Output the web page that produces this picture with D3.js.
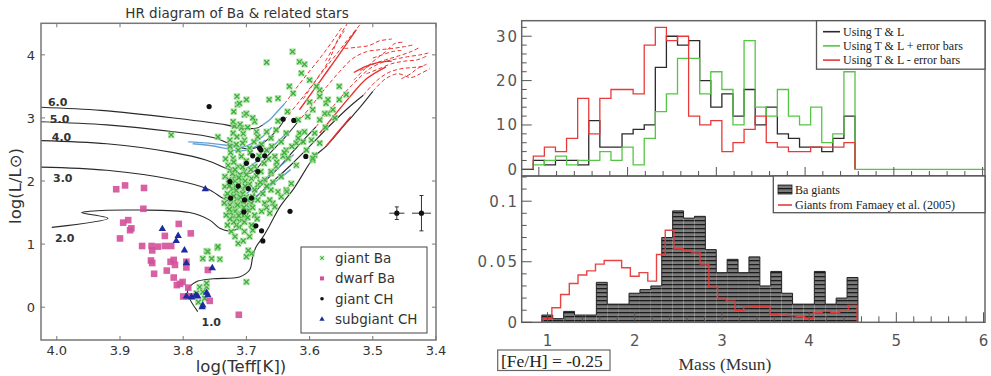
<!DOCTYPE html>
<html>
<head>
<meta charset="utf-8">
<script src="https://cdn.jsdelivr.net/npm/d3@7"></script>
<style>
  body { margin: 0; background: #fff; }
  svg { display: block; }
</style>
</head>
<body>
<svg id="fig" width="991" height="376"></svg>
<script>
// ---------- HR diagram data (logTeff, logL) ----------
const giantBa = [
  [3.627,4.05],[3.668,3.88],[3.616,3.89],[3.608,3.85],[3.600,3.60],[3.613,3.71],[3.584,3.44],[3.574,3.23],[3.553,3.50],
  [3.715,3.34],[3.700,3.29],[3.714,3.21],[3.703,3.05],[3.664,3.29],[3.650,3.31],[3.632,3.50],[3.626,3.39],[3.589,3.50],
  [3.584,3.34],[3.571,3.29],[3.595,3.13],[3.819,2.73],[3.745,2.70],[3.726,2.65],[3.721,2.76],[3.719,2.87],[3.708,2.84],
  [3.684,2.78],[3.668,2.78],[3.653,2.81],[3.616,2.76],[3.621,2.60],[3.605,2.49],[3.592,2.41],[3.595,2.33],[3.584,2.60],
  [3.597,2.65],[3.571,3.07],[3.563,3.13],[3.553,3.29],[3.542,3.37],[3.637,2.49],[3.642,2.39],[3.653,2.23],[3.661,2.12],
  [3.650,1.83],[3.658,1.65],[3.663,1.49],[3.692,0.85],[3.711,1.27],[3.713,1.01],[3.746,0.94],[3.763,0.89],[3.755,0.77],
  [3.769,0.77],[3.700,0.40],[3.774,0.32],[3.763,0.32],[3.769,0.24],[3.779,0.22],[3.776,0.08],[3.766,0.14],[3.763,0.38],
  [3.711,3.23],[3.700,3.07],[3.687,2.94],[3.721,2.94],[3.703,2.65],[3.682,2.70],[3.661,2.68],[3.645,2.62],[3.637,2.76],
  [3.618,2.68],[3.608,2.78],[3.592,2.76],[3.584,2.97],[3.576,3.07],[3.603,3.02],[3.618,2.97],[3.713,2.49],[3.721,2.36],
  [3.708,2.39],[3.695,2.52],[3.668,2.49],[3.655,2.39],[3.634,2.36],[3.621,2.25],[3.595,2.36],[3.637,1.86],[3.661,1.86],
  [3.671,2.02],[3.713,2.23],[3.726,2.17],[3.703,2.15],[3.719,2.07],[3.708,2.02],[3.692,2.04],[3.724,1.96],[3.716,1.91],
  [3.705,1.86],[3.721,1.83],[3.713,1.78],[3.724,1.70],[3.716,1.65],[3.708,1.67],[3.692,1.65],[3.682,1.70],[3.671,1.65],
  [3.719,1.57],[3.711,1.49],[3.721,1.43],[3.697,1.54],[3.687,1.46],[3.708,1.38],[3.716,1.30],[3.724,1.20],[3.692,1.30],
  [3.703,1.20],[3.695,1.12],[3.663,1.70],[3.655,1.59],[3.697,0.90],[3.745,0.96],[3.742,0.76],[3.700,0.80],[3.761,0.88],
  [3.732,1.75],[3.729,1.59],[3.734,1.91],[3.687,1.86],[3.682,1.94],[3.674,1.80],[3.700,1.75],[3.690,1.75],[3.734,2.07],
  [3.729,2.25],[3.687,2.23],[3.677,2.15],[3.661,2.15],[3.645,2.07],[3.645,1.75],[3.629,1.96],[3.636,1.83],
  [3.718,2.00],[3.712,1.94],[3.722,1.88],[3.706,1.80],[3.715,1.72],[3.726,1.62],[3.710,1.60],[3.700,1.62],[3.718,1.52],
  [3.705,1.45],[3.715,1.40],[3.725,1.50],[3.690,1.58],[3.698,1.70],[3.710,2.10],[3.720,2.30],[3.700,2.32],[3.716,2.58],
  [3.705,2.75],[3.725,2.45],[3.695,1.95],[3.702,2.00],[3.730,1.80],[3.680,2.40],[3.660,2.55],[3.650,2.95],[3.635,3.10],
  [3.600,3.25],[3.575,2.85],[3.560,3.00],
  [3.712,2.05],[3.722,2.12],[3.706,2.22],[3.718,2.18],[3.728,2.02],[3.702,1.92],[3.716,1.85],[3.727,1.92],[3.709,1.74],
  [3.720,1.76],[3.704,1.58],[3.714,1.62],[3.727,1.55],[3.712,1.45],[3.703,1.35],[3.720,1.35],[3.698,1.42],[3.726,1.40],
  [3.694,2.45],[3.706,2.60],[3.726,2.55],[3.715,2.70],[3.698,2.85],[3.688,2.62],[3.676,2.58],[3.665,2.35],[3.672,2.28],
  [3.684,2.08],[3.678,1.98],[3.668,1.92],[3.658,1.98],[3.652,2.30],[3.640,2.45],[3.628,2.55],[3.610,2.62],[3.730,1.30],
  [3.718,1.12],[3.705,1.05],[3.690,1.22],[3.683,1.40],[3.676,1.52],[3.668,1.58],[3.732,1.46],[3.735,1.65],[3.700,2.10],
  [3.693,2.18],[3.733,2.35],[3.710,2.90],[3.690,3.00],[3.720,3.10]
];
const dwarfBa = [
  [3.906,1.87],[3.892,1.93],[3.862,1.89],[3.863,1.56],[3.895,1.34],[3.887,1.38],[3.884,1.22],[3.882,1.25],[3.900,1.09],
  [3.865,0.97],[3.850,0.97],[3.849,0.90],[3.829,1.13],[3.829,0.97],[3.819,0.97],[3.807,1.32],[3.788,1.17],[3.851,0.74],
  [3.849,0.70],[3.846,0.53],[3.826,0.58],[3.820,0.72],[3.813,0.67],[3.795,0.72],[3.795,0.63],[3.815,0.47],[3.810,0.35],
  [3.801,0.40],[3.792,0.31],[3.800,0.17],[3.786,0.17],[3.761,0.59],[3.758,0.10],[3.712,-0.12],[3.792,0.17],[3.805,0.37],
  [3.840,0.96],[3.815,0.75]
];
const giantCH = [
  [3.759,3.18],[3.642,2.98],[3.625,2.96],[3.606,2.39],[3.679,2.52],[3.690,2.40],[3.682,2.34],[3.700,2.28],[3.682,2.15],
  [3.726,1.99],[3.713,1.92],[3.697,1.88],[3.725,1.73],[3.703,1.70],[3.692,1.73],[3.704,1.51],[3.631,1.52],[3.685,1.29],
  [3.676,1.21],[3.674,1.05],[3.671,2.40],[3.677,2.49]
];
const subgiantCH = [
  [3.765,1.87],[3.833,1.24],[3.811,1.05],[3.808,1.13],[3.798,0.90],[3.795,0.70],[3.754,0.62],[3.795,0.17],[3.787,0.16],
  [3.777,0.17],[3.763,0.23],[3.761,0.19],[3.769,0.03],[3.770,0.00],[3.780,0.19]
];
// typical error bars: logT, logL, err(logT), err(logL)
const errorBars = [[3.462,1.49,0.012,0.10],[3.423,1.49,0.015,0.28]];

// evolutionary tracks (black), label and label position
const trackLabels = ['1.0','2.0','3.0','4.0','5.0','6.0'];
const labelPos = [[3.771,-0.30],[4.003,1.03],[4.006,1.98],[4.008,2.63],[4.011,2.92],[4.014,3.19]];
const tracks = [
  [[3.777,-0.07],[3.790,0.14],[3.793,0.27],[3.780,0.40],[3.753,0.45],[3.711,0.48],[3.695,0.59],[3.690,0.80],[3.685,0.95],
   [3.674,1.11],[3.663,1.30],[3.647,1.59],[3.625,1.88],[3.592,2.39],[3.574,2.55],[3.542,2.92],[3.520,3.17],[3.500,3.42]],
  [[4.008,1.265],[3.919,1.41],[3.961,1.50],[3.948,1.52],[3.869,1.54],[3.790,1.50],[3.758,1.38],[3.742,1.25],[3.729,1.21],
   [3.716,1.23],[3.705,1.33],[3.697,1.50],[3.690,1.68],[3.675,1.84],[3.655,2.02],[3.630,2.25],[3.600,2.55],[3.570,2.86],
   [3.540,3.15],[3.515,3.36]],
  [[4.025,2.22],[3.921,2.17],[3.815,2.02],[3.763,1.88],[3.732,1.70],[3.716,1.65],[3.704,1.65],[3.695,1.70],[3.685,1.84],
   [3.670,2.00],[3.650,2.20],[3.625,2.48],[3.605,2.70],[3.590,2.86]],
  [[4.025,2.64],[3.921,2.59],[3.815,2.45],[3.763,2.33],[3.732,2.20],[3.711,2.12],[3.698,2.11],[3.687,2.16],[3.675,2.30],
   [3.660,2.47],[3.640,2.68],[3.620,2.92]],
  [[4.025,2.94],[3.921,2.89],[3.815,2.78],[3.753,2.69],[3.721,2.57],[3.705,2.52],[3.695,2.51],[3.682,2.54],[3.671,2.62],
   [3.660,2.72],[3.648,2.85],[3.640,2.97]],
  [[4.025,3.17],[3.930,3.12],[3.815,3.00],[3.732,2.89],[3.711,2.84],[3.695,2.83],[3.683,2.84],[3.674,2.89]]
];
const blueLoops = [
  [[3.674,2.89],[3.662,2.98],[3.652,3.09],[3.640,3.22]],
  [[3.792,2.62],[3.760,2.60],[3.735,2.57],[3.721,2.54],[3.705,2.54],[3.690,2.60],[3.675,2.70],[3.660,2.85]],
  [[3.785,2.59],[3.755,2.56],[3.730,2.51],[3.715,2.48],[3.700,2.49],[3.685,2.55],[3.670,2.65]],
  [[3.700,2.20],[3.685,2.30],[3.670,2.44],[3.655,2.58],[3.640,2.72]],
  [[3.700,1.80],[3.685,1.92],[3.665,2.08],[3.645,2.25],[3.625,2.42]],
  [[3.690,1.72],[3.672,1.85],[3.650,2.02],[3.630,2.18]]
];
const agbLines = [
  [[3.640,3.22],[3.625,3.42],[3.605,3.68],[3.585,3.93],[3.565,4.20],[3.548,4.45]],
  [[3.640,2.97],[3.618,3.24],[3.595,3.53],[3.572,3.83],[3.552,4.08],[3.535,4.30],[3.520,4.48]],
  [[3.620,2.92],[3.598,3.18],[3.575,3.47],[3.552,3.74],[3.532,3.94],[3.510,4.05],[3.490,4.08],[3.470,4.10],[3.450,4.13],[3.435,4.16]],
  [[3.590,2.86],[3.568,3.12],[3.546,3.38],[3.525,3.60],[3.505,3.78],[3.485,3.88],[3.465,3.93],[3.445,3.97],[3.425,4.00],[3.412,4.03]],
  [[3.515,3.36],[3.495,3.58],[3.475,3.72],[3.455,3.78],[3.435,3.80],[3.418,3.82]],
  [[3.500,3.42],[3.480,3.62],[3.460,3.70],[3.440,3.64],[3.425,3.70],[3.410,3.78]],
  [[3.530,3.60],[3.505,3.85],[3.480,4.05],[3.465,4.18],[3.450,4.20]],
  [[3.575,3.90],[3.560,4.15],[3.545,4.38]],
  [[3.520,3.75],[3.500,3.85],[3.480,3.92],[3.460,3.98],[3.440,4.05],[3.425,4.12]],
  [[3.510,3.70],[3.490,3.78],[3.470,3.86],[3.450,3.90],[3.430,3.92],[3.415,3.98]],
  [[3.545,4.10],[3.525,4.12],[3.505,4.15],[3.490,4.22],[3.470,4.25]],
  [[3.500,3.95],[3.485,4.00],[3.470,4.05],[3.455,4.07]],
  [[3.455,3.62],[3.440,3.70],[3.430,3.78],[3.415,3.85]],
  [[3.610,3.30],[3.590,3.60],[3.570,3.90],[3.555,4.25],[3.540,4.50]]
];
const agbSolid = [
  [[3.616,3.13],[3.595,3.42],[3.575,3.70],[3.555,3.98],[3.526,4.40]],
  [[3.584,2.76],[3.560,3.05],[3.535,3.35],[3.510,3.62],[3.479,3.81]],
  [[3.574,2.55],[3.555,2.78],[3.535,3.02]],
  [[3.530,3.72],[3.510,3.82],[3.490,3.88],[3.470,3.90]]
];
const hrTicksX = [4.0,3.9,3.8,3.7,3.6,3.5,3.4];
const hrTicksY = [0,1,2,3,4];

// ---------- mass histograms ----------
const topBinStart = 0.9375, topBinWidth = 0.125;
const countsTL      = [2,1,2,2,1,11,5,5,8,9,10,23,30,28,29,20,14,17,12,18,10,14,8,7,5,5,4,7,12];
const countsTLplus  = [1,2,3,1,2,2,4,2,5,1,7,13,17,25,25,17,22,18,10,29,14,12,18,12,10,14,6,8,22];
const countsTLminus = [3,5,4,7,16,8,16,18,18,17,28,32,29,30,12,10,11,4,6,9,12,6,5,4,4,5,5,5,6];
const baBinStart = 0.935, baBinWidth = 0.125;
const baGiants = [0.006,0.003,0.009,0.006,0.006,0.033,0.015,0.015,0.024,0.027,0.030,0.070,0.092,0.086,0.0875,
  0.060,0.041,0.052,0.041,0.054,0.030,0.042,0.024,0.015,0.015,0.042,0.015,0.020,0.037];
const famBinStart = 0.95, famBinWidth = 0.1;
const famaey = [0.003,0.012,0.023,0.032,0.039,0.0425,0.048,0.051,0.051,0.045,0.038,0.041,0.034,0.056,0.076,0.061,
  0.059,0.058,0.048,0.029,0.019,0.0175,0.0095,0.0125,0.013,0.013,0.0065,0.007,0.0055,0.005,0.003,0.008,0.009,0.008,0.0105,0.014];
const massTicks = [1,2,3,4,5,6];
const topYTicks = [0,10,20,30];
const botYTicks = [0,0.05,0.1];

const svg = d3.select('#fig');
const defs = svg.append('defs');

// ================= left: HR diagram =================
const xHR = d3.scaleLinear().domain([4.025, 3.4]).range([41, 436]);
const yHR = d3.scaleLinear().domain([-0.52, 4.5]).range([340, 23.3]);
defs.append('clipPath').attr('id', 'hrclip').append('rect')
  .attr('x', xHR.range()[0]).attr('y', yHR.range()[1])
  .attr('width', xHR.range()[1] - xHR.range()[0]).attr('height', yHR.range()[0] - yHR.range()[1]);

const hr = svg.append('g').attr('clip-path', 'url(#hrclip)');
const hrLine = d3.line().x(d => xHR(d[0])).y(d => yHR(d[1])).curve(d3.curveCatmullRom.alpha(0.5));

hr.selectAll('.trk').data(tracks).enter().append('path')
  .attr('d', hrLine).attr('fill', 'none').attr('stroke', '#2a2a2a').attr('stroke-width', 1.1);
hr.selectAll('.blue').data(blueLoops).enter().append('path')
  .attr('d', hrLine).attr('fill', 'none').attr('stroke', '#4a90d0').attr('stroke-width', 1.4).attr('opacity', 0.85);
hr.selectAll('.agb').data(agbLines).enter().append('path')
  .attr('d', hrLine).attr('fill', 'none').attr('stroke', '#e8322e').attr('stroke-width', 1)
  .attr('stroke-dasharray', '4,2.5');
hr.selectAll('.agbs').data(agbSolid).enter().append('path')
  .attr('d', hrLine).attr('fill', 'none').attr('stroke', '#e8322e').attr('stroke-width', 1.4);

const greenX = 'M-2.4,-2.4L2.4,2.4M-2.4,2.4L2.4,-2.4';
function drawGreen(sel, x, y, s) {
  const g = sel.append('g').attr('transform', `translate(${x},${y}) scale(${s})`);
  g.append('rect').attr('x', -3.3).attr('y', -3.3).attr('width', 6.6).attr('height', 6.6).attr('fill', '#a8dd9e').attr('opacity', 0.75);
  g.append('path').attr('d', greenX).attr('stroke', '#3cae3c').attr('stroke-width', 1.3).attr('fill', 'none');
}
giantBa.forEach(d => drawGreen(hr, xHR(d[0]), yHR(d[1]), 1));

hr.selectAll('.dwarf').data(dwarfBa).enter().append('rect')
  .attr('x', d => xHR(d[0]) - 3.3).attr('y', d => yHR(d[1]) - 3.3)
  .attr('width', 6.6).attr('height', 6.6).attr('fill', '#d4509a').attr('opacity', 0.9);
const tri = d3.symbol().type(d3.symbolTriangle).size(24);
hr.selectAll('.sub').data(subgiantCH).enter().append('path')
  .attr('d', tri).attr('transform', d => `translate(${xHR(d[0])},${yHR(d[1])})`).attr('fill', '#1e2aa0');
hr.selectAll('.gch').data(giantCH).enter().append('circle')
  .attr('cx', d => xHR(d[0])).attr('cy', d => yHR(d[1])).attr('r', 2.6).attr('fill', '#111');

// error bar examples
errorBars.forEach(e => {
  const cx = xHR(e[0]), cy = yHR(e[1]);
  hr.append('line').attr('x1', xHR(e[0] + e[2])).attr('x2', xHR(e[0] - e[2])).attr('y1', cy).attr('y2', cy)
    .attr('stroke', '#333').attr('stroke-width', 1);
  hr.append('line').attr('x1', cx).attr('x2', cx).attr('y1', yHR(e[1] - e[3])).attr('y2', yHR(e[1] + e[3]))
    .attr('stroke', '#333').attr('stroke-width', 1);
  [e[1] - e[3], e[1] + e[3]].forEach(v => hr.append('line').attr('x1', cx - 2).attr('x2', cx + 2)
    .attr('y1', yHR(v)).attr('y2', yHR(v)).attr('stroke', '#333'));
  hr.append('circle').attr('cx', cx).attr('cy', cy).attr('r', 2.6).attr('fill', '#111');
});

// track labels
svg.selectAll('.tl').data(trackLabels).enter().append('text')
  .attr('x', (d, i) => xHR(labelPos[i][0])).attr('y', (d, i) => yHR(labelPos[i][1]))
  .attr('font-family', 'DejaVu Sans').attr('font-size', 11).attr('font-weight', 'bold').attr('fill', '#333')
  .text(d => d);

// frame + ticks
svg.append('rect').attr('x', 41).attr('y', 23.3).attr('width', 395).attr('height', 316.7)
  .attr('fill', 'none').attr('stroke', '#777').attr('stroke-width', 1.5);
hrTicksX.forEach(v => {
  svg.append('line').attr('x1', xHR(v)).attr('x2', xHR(v)).attr('y1', 340).attr('y2', 336).attr('stroke', '#777');
  svg.append('line').attr('x1', xHR(v)).attr('x2', xHR(v)).attr('y1', 23.3).attr('y2', 27.3).attr('stroke', '#777');
  svg.append('text').attr('x', xHR(v)).attr('y', 355).attr('text-anchor', 'middle')
    .attr('font-family', 'DejaVu Sans').attr('font-size', 13).attr('fill', '#333').text(v.toFixed(1));
});
hrTicksY.forEach(v => {
  svg.append('line').attr('x1', 41).attr('x2', 45).attr('y1', yHR(v)).attr('y2', yHR(v)).attr('stroke', '#777');
  svg.append('line').attr('x1', 436).attr('x2', 432).attr('y1', yHR(v)).attr('y2', yHR(v)).attr('stroke', '#777');
  svg.append('text').attr('x', 35).attr('y', yHR(v) + 4.7).attr('text-anchor', 'end')
    .attr('font-family', 'DejaVu Sans').attr('font-size', 13).attr('fill', '#333').text(v);
});
svg.append('text').attr('x', 237).attr('y', 18).attr('text-anchor', 'middle')
  .attr('font-family', 'DejaVu Sans').attr('font-size', 13.5).attr('fill', '#333')
  .text('HR diagram of Ba & related stars');
svg.append('text').attr('x', 241).attr('y', 372).attr('text-anchor', 'middle')
  .attr('font-family', 'DejaVu Sans').attr('font-size', 16.5).attr('fill', '#333').text('log(Teff[K])');
svg.append('text').attr('transform', 'translate(21,186) rotate(-90)').attr('text-anchor', 'middle')
  .attr('font-family', 'DejaVu Sans').attr('font-size', 16.5).attr('fill', '#333').text('log(L/L\u2299)');

// legend
const lg = svg.append('g');
lg.append('rect').attr('x', 301).attr('y', 247).attr('width', 126).attr('height', 86)
  .attr('fill', '#fff').attr('stroke', '#444').attr('stroke-width', 1);
const legNames = ['giant Ba', 'dwarf Ba', 'giant CH', 'subgiant CH'];
legNames.forEach((n, i) => {
  const y = 258 + i * 20.4, x = 322;
  if (i === 0) drawGreen(lg, x, y, 0.7);
  if (i === 1) lg.append('rect').attr('x', x - 2).attr('y', y - 2).attr('width', 4).attr('height', 4).attr('fill', '#d4509a');
  if (i === 2) lg.append('circle').attr('cx', x).attr('cy', y).attr('r', 1.8).attr('fill', '#111');
  if (i === 3) lg.append('path').attr('d', d3.symbol().type(d3.symbolTriangle).size(12))
    .attr('transform', `translate(${x},${y})`).attr('fill', '#1e2aa0');
  lg.append('text').attr('x', 335).attr('y', y + 5).attr('font-family', 'DejaVu Sans').attr('font-size', 13.5)
    .attr('fill', '#333').text(n);
});

// ================= right: mass histograms =================
const L = 521.7, R = 985;
const xTop = d3.scaleLinear().domain([0.807, 6.027]).range([L, R]);
const yTop = d3.scaleLinear().domain([-1.5, 33.5]).range([176, 20.7]);
const xBot = d3.scaleLinear().domain([0.704, 6.017]).range([L, R]);
const yBot = d3.scaleLinear().domain([0, 0.1208]).range([322.3, 176]);

function steps(start, w, vals) {
  const pts = [[start, 0]];
  vals.forEach((v, i) => { pts.push([start + i * w, v]); pts.push([start + (i + 1) * w, v]); });
  pts.push([start + vals.length * w, 0]);
  return pts;
}
const topLine = d3.line().x(d => xTop(d[0])).y(d => yTop(d[1]));
const botLine = d3.line().x(d => xBot(d[0])).y(d => yBot(d[1]));

svg.append('path').attr('d', topLine([[xTop.domain()[0], 0]].concat(steps(topBinStart, topBinWidth, countsTL))))
  .attr('fill', 'none').attr('stroke', '#2b2b2b').attr('stroke-width', 1.3);
svg.append('path').attr('d', topLine(steps(topBinStart, topBinWidth, countsTLplus).concat([[xTop.domain()[1], 0]])))
  .attr('fill', 'none').attr('stroke', '#55c545').attr('stroke-width', 1.3);
svg.append('path').attr('d', topLine(steps(topBinStart, topBinWidth, countsTLminus)))
  .attr('fill', 'none').attr('stroke', '#e83a3a').attr('stroke-width', 1.3);

// hatched bars
const pat = defs.append('pattern').attr('id', 'hatch').attr('patternUnits', 'userSpaceOnUse')
  .attr('width', 8).attr('height', 4);
pat.append('rect').attr('width', 8).attr('height', 4).attr('fill', '#7a7a7a');
pat.append('rect').attr('width', 8).attr('height', 1.3).attr('fill', '#1c1c1c');
svg.selectAll('.bar').data(baGiants).enter().append('rect')
  .attr('x', (d, i) => xBot(baBinStart + i * baBinWidth))
  .attr('width', xBot(baBinStart + baBinWidth) - xBot(baBinStart))
  .attr('y', d => yBot(d)).attr('height', d => yBot(0) - yBot(d)).attr('fill', 'url(#hatch)');
svg.append('path').attr('d', botLine(steps(baBinStart, baBinWidth, baGiants)))
  .attr('fill', 'none').attr('stroke', '#222').attr('stroke-width', 1);
svg.append('path').attr('d', botLine(steps(famBinStart, famBinWidth, famaey)))
  .attr('fill', 'none').attr('stroke', '#e83a3a').attr('stroke-width', 1.4).attr('opacity', 0.95);

// frames
svg.append('rect').attr('x', L).attr('y', 20.7).attr('width', R - L).attr('height', 176 - 20.7)
  .attr('fill', 'none').attr('stroke', '#666').attr('stroke-width', 1.5);
svg.append('rect').attr('x', L).attr('y', 176).attr('width', R - L).attr('height', 322.3 - 176)
  .attr('fill', 'none').attr('stroke', '#666').attr('stroke-width', 1.5);

const tk = '#555';
d3.range(0, 33, 2).forEach(v => {
  const len = v % 10 === 0 ? 10 : 5;
  svg.append('line').attr('x1', L).attr('x2', L + len).attr('y1', yTop(v)).attr('y2', yTop(v)).attr('stroke', tk);
});
d3.range(0, 13).forEach(k => {
  const len = k % 5 === 0 ? 10 : 5;
  svg.append('line').attr('x1', L).attr('x2', L + len).attr('y1', yBot(k / 100)).attr('y2', yBot(k / 100)).attr('stroke', tk);
});
d3.range(1, 31).map(i => 0.8 + i * 0.2).forEach(m => {
  const major = Math.abs(m - Math.round(m)) < 1e-6;
  if (m < xTop.domain()[1]) svg.append('line').attr('x1', xTop(m)).attr('x2', xTop(m)).attr('y1', 176)
    .attr('y2', 176 - (major ? 9 : 5)).attr('stroke', tk);
  if (m < xBot.domain()[1]) svg.append('line').attr('x1', xBot(m)).attr('x2', xBot(m)).attr('y1', 322.3)
    .attr('y2', 322.3 - (major ? 10 : 6)).attr('stroke', tk);
});

const tf = t => t.attr('font-family', 'DejaVu Sans').attr('font-size', 15).attr('fill', '#555')
  .attr('letter-spacing', 2);
topYTicks.forEach(v => tf(svg.append('text').attr('x', 519).attr('y', yTop(v) + 5.5)
  .attr('text-anchor', 'end')).text(v));
botYTicks.forEach(v => tf(svg.append('text').attr('x', 519).attr('y', yBot(v) + 5.5)
  .attr('text-anchor', 'end')).text(v));
massTicks.forEach(v => tf(svg.append('text').attr('x', xBot(v) + 1).attr('y', 346)
  .attr('text-anchor', 'middle')).text(v));

const serif = 'Liberation Serif';
svg.append('text').attr('x', 725).attr('y', 369.5).attr('text-anchor', 'middle')
  .attr('font-family', serif).attr('font-size', 17.5).attr('fill', '#333').text('Mass (Msun)');
svg.append('rect').attr('x', 497.7).attr('y', 350).attr('width', 112.3).attr('height', 20.5)
  .attr('fill', 'none').attr('stroke', '#666').attr('stroke-width', 1.2);
svg.append('text').attr('x', 501).attr('y', 366.7)
  .attr('font-family', serif).attr('font-size', 17.5).attr('fill', '#222').text('[Fe/H] = -0.25');

// top legend
svg.append('rect').attr('x', 816.5).attr('y', 20.7).attr('width', R - 816.5).attr('height', 48.5)
  .attr('fill', '#fff').attr('stroke', '#555').attr('stroke-width', 1.3);
const topLeg = [['Using T & L', '#2b2b2b'], ['Using T & L + error bars', '#55c545'], ['Using T & L - error bars', '#e83a3a']];
topLeg.forEach((d, i) => {
  const y = 31.7 + i * 14.2;
  svg.append('line').attr('x1', 823).attr('x2', 840).attr('y1', y).attr('y2', y).attr('stroke', d[1]).attr('stroke-width', 1.6);
  svg.append('text').attr('x', 843).attr('y', y + 4).attr('font-family', serif).attr('font-size', 12)
    .attr('fill', '#222').text(d[0]);
});
// bottom legend
svg.append('rect').attr('x', 773.3).attr('y', 176).attr('width', R - 773.3).attr('height', 36.7)
  .attr('fill', '#fff').attr('stroke', '#555').attr('stroke-width', 1.3);
svg.append('rect').attr('x', 778).attr('y', 185).attr('width', 14).attr('height', 9).attr('fill', 'url(#hatch)')
  .attr('stroke', '#222').attr('stroke-width', 0.8);
svg.append('text').attr('x', 795).attr('y', 193.5).attr('font-family', serif).attr('font-size', 12)
  .attr('fill', '#222').text('Ba giants');
svg.append('line').attr('x1', 778).attr('x2', 792).attr('y1', 205).attr('y2', 205).attr('stroke', '#e83a3a').attr('stroke-width', 1.6);
svg.append('text').attr('x', 795).attr('y', 209).attr('font-family', serif).attr('font-size', 12)
  .attr('fill', '#222').text('Giants from Famaey et al. (2005)');
</script>
</body>
</html>
